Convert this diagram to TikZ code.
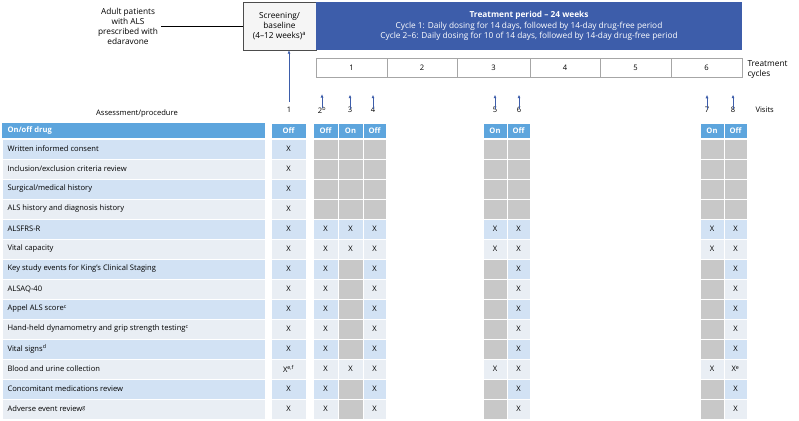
\documentclass[tikz,border=0pt]{standalone}
\usepackage{fontspec}
\setmainfont{Open Sans}
\definecolor{dblue}{HTML}{3D5DAA}
\definecolor{hblue}{HTML}{5DA5DD}
\definecolor{lblue}{HTML}{D2E2F4}
\definecolor{lgrey}{HTML}{E9EEF4}
\definecolor{gcell}{HTML}{C8C8C8}
\begin{document}
\begin{tikzpicture}[x=1pt,y=-1pt,font=\fontsize{7.6}{9}\selectfont,
  cell/.style={draw=white,line width=0.8pt},
  arr/.style={draw=dblue,-{Latex[length=3.5pt,width=3pt]},line width=0.7pt},
  ]
\usetikzlibrary{arrows.meta}
\useasboundingbox (0,0) rectangle (799,420);
% header
\node[align=center,font=\fontsize{8.3}{10}\selectfont] (pat) at (128,26) {Adult patients\\with ALS\\prescribed with\\edaravone};
\node[draw=black!70,fill=black!4,minimum width=73pt,minimum height=48pt,align=center,inner sep=0pt,font=\fontsize{8.3}{10}\selectfont] (scr) at (279.5,26) {Screening/\\baseline\\(4–12 weeks)\textsuperscript{a}};
\draw[line width=0.8pt] (pat.east) -- (scr.west);
\node[fill=dblue,minimum width=426pt,minimum height=48pt,inner sep=0pt] (tp) at (529,26) {};
\node[text=white,align=center,font=\fontsize{8.3}{10.5}\selectfont] (tpt) at (529,26) {\textbf{Treatment period – 24 weeks}\\Cycle 1: Daily dosing for 14 days, followed by 14-day drug-free period\\Cycle 2–6: Daily dosing for 10 of 14 days, followed by 14-day drug-free period};
% cycles
\foreach \a/\b/\n in {316/387/1,387/457/2,457/530/3,530/600/4,600/671/5,671/742/6}{
  \draw[black!35,fill=white] (\a,58) rectangle (\b,77);
  \node (c\n) at ({(\a+\b)/2},67.5) {\n};}
\node[align=left,anchor=west,font=\fontsize{8.3}{10}\selectfont] (tc) at (744,70) {Treatment\\cycles};
% visits
\foreach \v/\x in {1/289,2/322,3/350,4/373,5/495,6/519,7/707,8/733}{
  \node (v\v) at (\x,110) {\ifnum\v=2 2\textsuperscript{b}\else\v\fi};}
\node[anchor=west] (vis) at (752,110) {Visits};
\node (ap) at (137,114) {Assessment/procedure};
\coordinate (a1s) at (289,102);
\draw[arr] (a1s) -- (scr.south -| a1s) ;
\foreach \v in {2,3,4,5,6,7,8}{
  \coordinate (a\v s) at ([yshift=-5pt]v\v.north);
  \draw[arr] (a\v s) -- ++(0,-14);}
% table
\def\cols{1/271/306,2/313/338,3/338/363,4/363/386,5/483/507,6/507/530,7/700/724,8/724/747}
\fill[hblue] (2,123) rectangle (265,138);
\node[anchor=west,text=white,font=\bfseries\fontsize{7.6}{9}\selectfont] (hd) at (4,130.5) {On/off drug};
\foreach \c/\a/\b/\t in {1/271/306/Off,2/313/338/Off,3/338/363/On,4/363/386/Off,5/483/507/On,6/507/530/Off,7/700/724/On,8/724/747/Off}{
  \fill[hblue,cell] (\a,123) rectangle (\b,138);
  \node[text=white,font=\bfseries\fontsize{7.6}{9}\selectfont] (h\c) at ({(\a+\b)/2},130.5) {\t};}
\foreach \lab [count=\i from 0] in {Written informed consent,Inclusion/exclusion criteria review,Surgical/medical history,ALS history and diagnosis history,ALSFRS-R,Vital capacity,Key study events for King’s Clinical Staging,ALSAQ-40,Appel ALS score\textsuperscript{c},Hand-held dynamometry and grip strength testing\textsuperscript{c},Vital signs\textsuperscript{d},Blood and urine collection,Concomitant medications review,Adverse event review\textsuperscript{g}}{
  \pgfmathsetmacro\ya{139+20*\i}\pgfmathsetmacro\yb{\ya+20}
  \pgfmathtruncatemacro\odd{mod(\i,2)}
  \ifnum\odd=0 \def\fc{lblue}\else\def\fc{lgrey}\fi
  \fill[\fc,cell] (2,\ya) rectangle (265,\yb);
  \node[anchor=west] (r\i) at (4,\ya+10) {\lab};
  \foreach \c/\a/\b in \cols{
    % decide content
    \pgfmathtruncatemacro\kind{ (\c>1 && \i<4) ? 0 : ( ((\c==3||\c==5||\c==7) && \i>5 && \i!=11) ? 0 : 1) }
    \ifnum\kind=0
      \fill[gcell,cell] (\a,\ya) rectangle (\b,\yb);
    \else
      \fill[\fc,cell] (\a,\ya) rectangle (\b,\yb);
      \node (x\c-\i) at ({(\a+\b)/2},\ya+10) {\ifnum\i=11 \ifnum\c=1 X\textsuperscript{e,f}\else\ifnum\c=8 X\textsuperscript{e}\else X\fi\fi\else X\fi};
    \fi}
}
\end{tikzpicture}
\end{document}
